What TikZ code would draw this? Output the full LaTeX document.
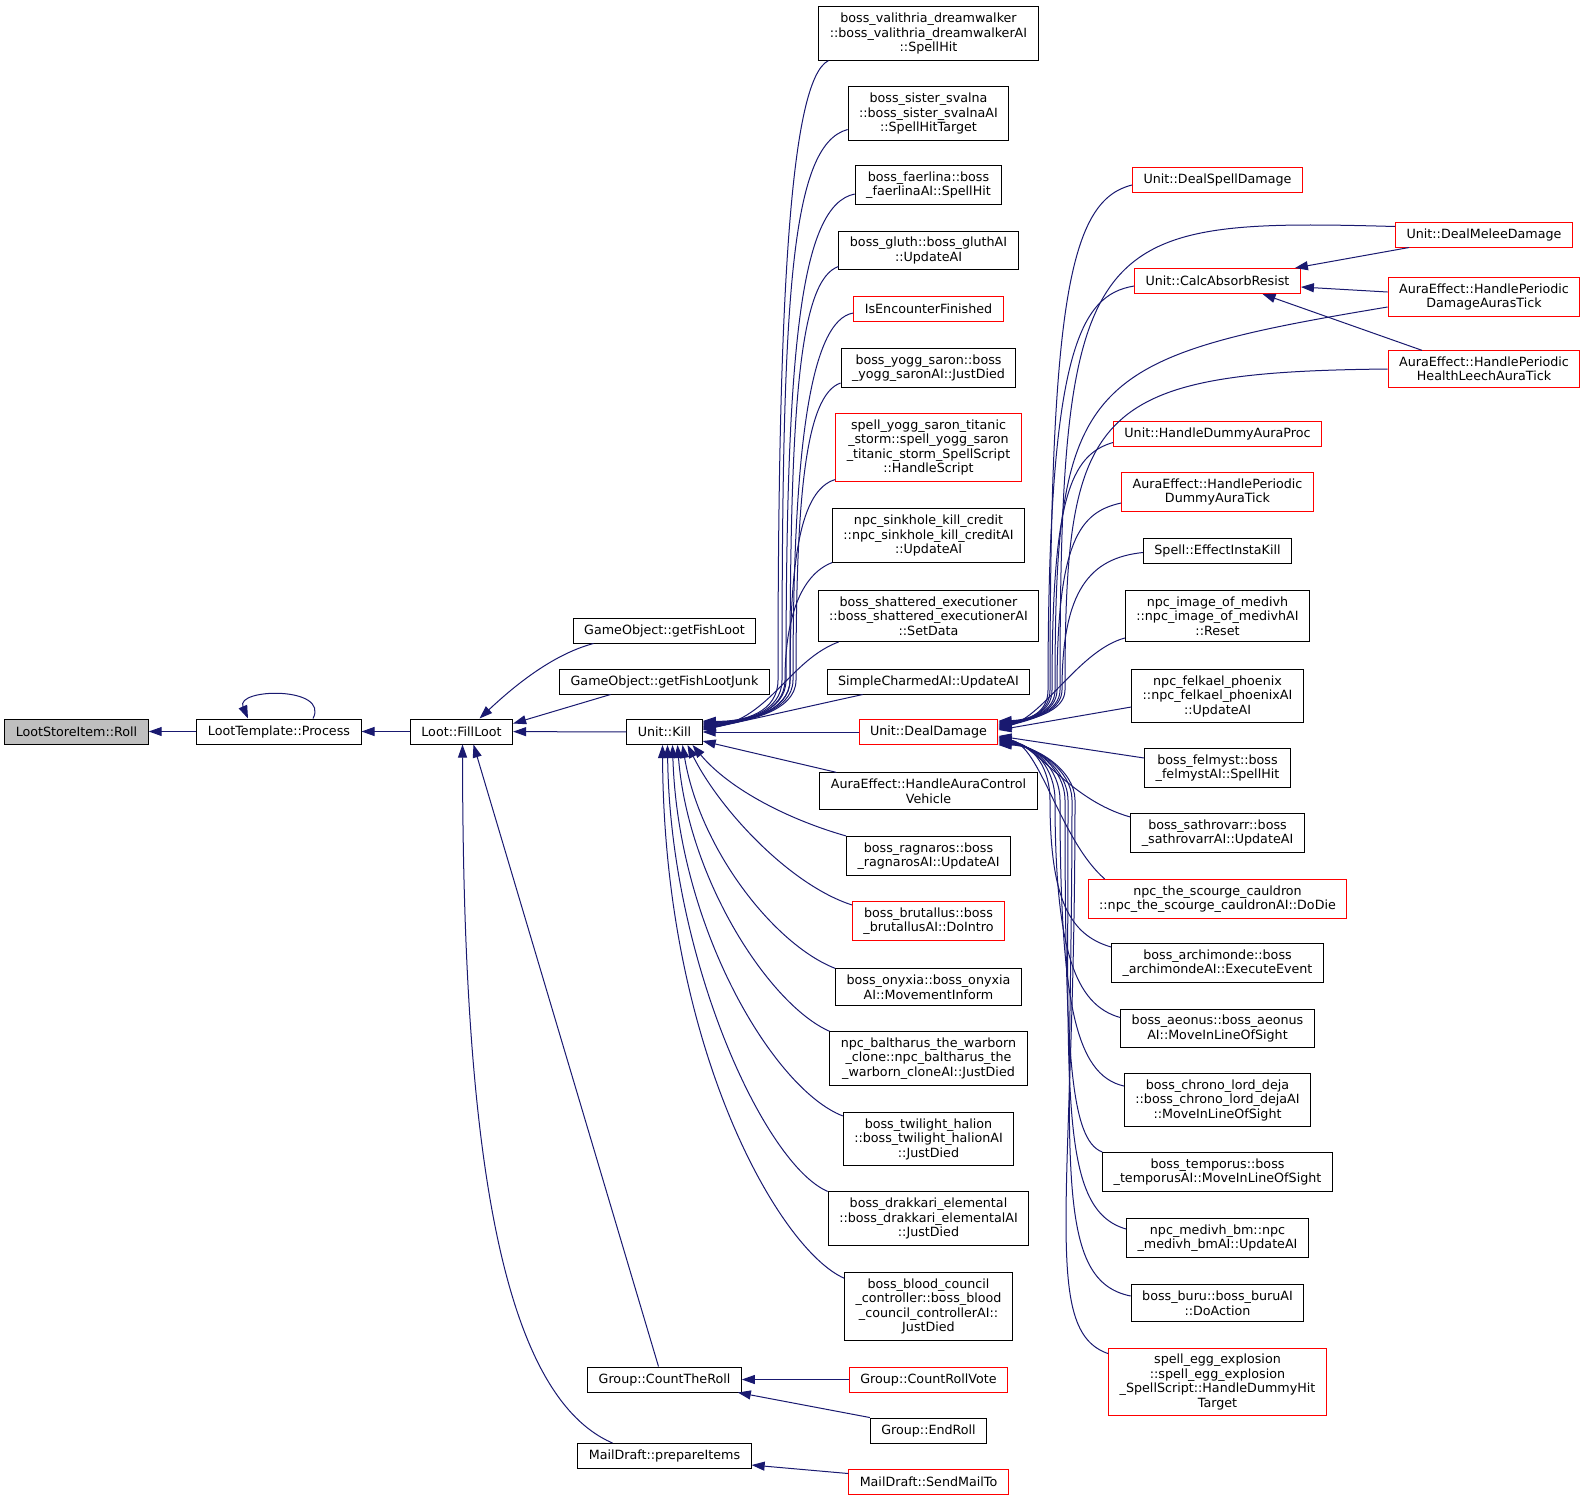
\documentclass[tikz,border=0pt]{standalone}
\usepackage{fontspec}
\newfontfamily\graphsans{DejaVu Sans}
\usetikzlibrary{arrows.meta}
\definecolor{edgenavy}{HTML}{191970}
\definecolor{rootgray}{HTML}{BFBFBF}
\newcommand{\nodefont}{\graphsans\fontsize{12.7pt}{14.5pt}\selectfont}

\begin{document}
\begin{tikzpicture}[x=1pt,y=-1pt,>={Triangle[length=13pt,width=9pt]},
  fn/.style={draw=black,fill=white,line width=1pt,font=\nodefont,align=center,
    inner xsep=11pt,inner ysep=6pt,minimum height=25pt},
  fnred/.style={fn,draw=red},
  fnroot/.style={fn,fill=rootgray},
  callerline/.style={draw=edgenavy,line width=1pt,<-}]
  \useasboundingbox[fill=white] (0,0) rectangle (1592,1500);

  % left part
  \node[fnroot] (roll) at (76.5,731.5) {LootStoreItem::Roll};
  \node[fn] (process) at (279,731.5) {LootTemplate::Process};
  \node[fn] (fillloot) at (461.5,731.5) {Loot::FillLoot};
  \node[fn] (fishloot) at (664.5,630.5) {GameObject::getFishLoot};
  \node[fn] (fishjunk) at (664.5,681.5) {GameObject::getFishLootJunk};
  \node[fn] (kill) at (664.5,732) {Unit::Kill};
  \node[fn] (counttheroll) at (664.5,1379.5) {Group::CountTheRoll};
  \node[fn] (prepareitems) at (664.5,1456) {MailDraft::prepareItems};

  % callers of Unit::Kill
  \node[fn] (valithria) at (928.5,33.5) {boss\_valithria\_dreamwalker\\::boss\_valithria\_dreamwalkerAI\\::SpellHit};
  \node[fn] (svalna) at (928.5,113.5) {boss\_sister\_svalna\\::boss\_sister\_svalnaAI\\::SpellHitTarget};
  \node[fn] (faerlina) at (928.5,185) {boss\_faerlina::boss\\\_faerlinaAI::SpellHit};
  \node[fn] (gluth) at (928.5,250.5) {boss\_gluth::boss\_gluthAI\\::UpdateAI};
  \node[fnred] (isencounter) at (928.5,309) {IsEncounterFinished};
  \node[fn] (yogg) at (928.5,368) {boss\_yogg\_saron::boss\\\_yogg\_saronAI::JustDied};
  \node[fnred] (spellyogg) at (928.5,447.5) {spell\_yogg\_saron\_titanic\\\_storm::spell\_yogg\_saron\\\_titanic\_storm\_SpellScript\\::HandleScript};
  \node[fn] (sinkhole) at (928.5,535.5) {npc\_sinkhole\_kill\_credit\\::npc\_sinkhole\_kill\_creditAI\\::UpdateAI};
  \node[fn] (shattered) at (928.5,616) {boss\_shattered\_executioner\\::boss\_shattered\_executionerAI\\::SetData};
  \node[fn] (simplecharmed) at (928.5,681.5) {SimpleCharmedAI::UpdateAI};
  \node[fnred] (dealdamage) at (928.5,732) {Unit::DealDamage};
  \node[fn] (auravehicle) at (928.5,791) {AuraEffect::HandleAuraControl\\Vehicle};
  \node[fn] (ragnaros) at (928.5,856) {boss\_ragnaros::boss\\\_ragnarosAI::UpdateAI};
  \node[fnred] (brutallus) at (928.5,921) {boss\_brutallus::boss\\\_brutallusAI::DoIntro};
  \node[fn] (onyxia) at (928.5,987) {boss\_onyxia::boss\_onyxia\\AI::MovementInform};
  \node[fn] (baltharus) at (928.5,1058.5) {npc\_baltharus\_the\_warborn\\\_clone::npc\_baltharus\_the\\\_warborn\_cloneAI::JustDied};
  \node[fn] (halion) at (928.5,1139) {boss\_twilight\_halion\\::boss\_twilight\_halionAI\\::JustDied};
  \node[fn] (drakkari) at (928.5,1218.5) {boss\_drakkari\_elemental\\::boss\_drakkari\_elementalAI\\::JustDied};
  \node[fn] (bloodcouncil) at (928.5,1306.5) {boss\_blood\_council\\\_controller::boss\_blood\\\_council\_controllerAI::\\JustDied};
  \node[fnred] (countrollvote) at (928.5,1379.5) {Group::CountRollVote};
  \node[fn] (endroll) at (928.5,1430.5) {Group::EndRoll};
  \node[fnred] (sendmailto) at (928.5,1481.5) {MailDraft::SendMailTo};

  % callers of Unit::DealDamage
  \node[fnred] (dealspell) at (1217.5,180) {Unit::DealSpellDamage};
  \node[fnred] (calcabsorb) at (1217.5,281) {Unit::CalcAbsorbResist};
  \node[fnred] (dummyproc) at (1217.5,433.5) {Unit::HandleDummyAuraProc};
  \node[fnred] (dummytick) at (1217.5,492) {AuraEffect::HandlePeriodic\\DummyAuraTick};
  \node[fn] (instakill) at (1217.5,550.5) {Spell::EffectInstaKill};
  \node[fn] (imagemedivh) at (1217.5,616) {npc\_image\_of\_medivh\\::npc\_image\_of\_medivhAI\\::Reset};
  \node[fn] (felkael) at (1217.5,696) {npc\_felkael\_phoenix\\::npc\_felkael\_phoenixAI\\::UpdateAI};
  \node[fn] (felmyst) at (1217.5,768) {boss\_felmyst::boss\\\_felmystAI::SpellHit};
  \node[fn] (sathrovarr) at (1217.5,833) {boss\_sathrovarr::boss\\\_sathrovarrAI::UpdateAI};
  \node[fnred] (cauldron) at (1217.5,899) {npc\_the\_scourge\_cauldron\\::npc\_the\_scourge\_cauldronAI::DoDie};
  \node[fn] (archimonde) at (1217.5,963) {boss\_archimonde::boss\\\_archimondeAI::ExecuteEvent};
  \node[fn] (aeonus) at (1217.5,1028.5) {boss\_aeonus::boss\_aeonus\\AI::MoveInLineOfSight};
  \node[fn] (chrono) at (1217.5,1100) {boss\_chrono\_lord\_deja\\::boss\_chrono\_lord\_dejaAI\\::MoveInLineOfSight};
  \node[fn] (temporus) at (1217.5,1172) {boss\_temporus::boss\\\_temporusAI::MoveInLineOfSight};
  \node[fn] (medivhbm) at (1217.5,1238) {npc\_medivh\_bm::npc\\\_medivh\_bmAI::UpdateAI};
  \node[fn] (buru) at (1217.5,1303) {boss\_buru::boss\_buruAI\\::DoAction};
  \node[fnred] (egg) at (1217.5,1382) {spell\_egg\_explosion\\::spell\_egg\_explosion\\\_SpellScript::HandleDummyHit\\Target};

  % callers of Unit::CalcAbsorbResist
  \node[fnred] (dealmelee) at (1484,234.5) {Unit::DealMeleeDamage};
  \node[fnred] (damagetick) at (1484,297) {AuraEffect::HandlePeriodic\\DamageAurasTick};
  \node[fnred] (leechtick) at (1484,369) {AuraEffect::HandlePeriodic\\HealthLeechAuraTick};

  % left edges
  \draw[callerline] (roll) -- (process);
  \draw[callerline] ([xshift=-31pt]process.north) .. controls (235,688) and (330,686) .. ([xshift=34pt]process.north);
  \draw[callerline] (process) -- (fillloot);
  \draw[callerline] ([xshift=18pt]fillloot.north) .. controls (510,690) and (550,655) .. ([xshift=-71pt]fishloot.south);
  \draw[callerline] ([yshift=8pt]fillloot.east) -- ([xshift=-54pt]fishjunk.south);
  \draw[callerline] (fillloot) -- (kill);
  \draw[callerline] ([xshift=12pt]fillloot.south) -- ([xshift=-6pt]counttheroll.north);
  \draw[callerline] ([xshift=1pt]fillloot.south) .. controls (463,1100) and (490,1390) .. ([xshift=-52pt]prepareitems.north);
  \draw[callerline] (counttheroll) -- (countrollvote);
  \draw[callerline] ([xshift=-4pt]counttheroll.south east) -- (endroll.north west);
  \draw[callerline] ([yshift=-9pt]prepareitems.east) -- ([yshift=8pt]sendmailto.west);

  % into Unit::Kill
  \draw[callerline] ([yshift=11pt]kill.east) .. controls (745,722) and (778,712) .. (778,680) .. controls (778,300) and (790,80) .. ([xshift=10pt]valithria.south west);
  \draw[callerline] ([yshift=10pt]kill.east) .. controls (745,722) and (782,712) .. (782,680) .. controls (782,300) and (790,145) .. ([yshift=-16pt]svalna.west);
  \draw[callerline] ([yshift=9pt]kill.east) .. controls (745,722) and (786,712) .. (786,680) .. controls (786,350) and (800,205) .. ([yshift=-9pt]faerlina.west);
  \draw[callerline] ([yshift=8pt]kill.east) .. controls (745,722) and (790,712) .. (790,680) .. controls (790,400) and (800,280) .. ([yshift=-16pt]gluth.west);
  \draw[callerline] ([yshift=7pt]kill.east) .. controls (745,722) and (793,712) .. (793,680) .. controls (793,450) and (810,320) .. ([yshift=-4pt]isencounter.west);
  \draw[callerline] ([yshift=6pt]kill.east) .. controls (745,722) and (796,712) .. (796,680) .. controls (796,500) and (805,395) .. ([yshift=-15pt]yogg.west);
  \draw[callerline] ([yshift=5pt]kill.east) .. controls (745,722) and (790,712) .. (790,680) .. controls (790,560) and (800,490) .. ([yshift=-32pt]spellyogg.west);
  \draw[callerline] ([yshift=4pt]kill.east) .. controls (745,722) and (785,712) .. (785,680) .. controls (785,620) and (800,575) .. (sinkhole.south west);
  \draw[callerline] ([yshift=3pt]kill.east) .. controls (770,718) and (790,660) .. ([xshift=21pt]shattered.south west);
  \draw[callerline] ([yshift=2pt]kill.east) -- ([xshift=36pt]simplecharmed.south west);
  \draw[callerline] (kill) -- (dealdamage);
  \draw[callerline] ([yshift=-9pt]kill.east) -- ([xshift=17pt]auravehicle.north west);
  \draw[callerline] ([xshift=28pt]kill.south) .. controls (730,790) and (790,820) .. (ragnaros.north west);
  \draw[callerline] ([xshift=23pt]kill.south) .. controls (720,810) and (790,885) .. ([yshift=-4pt]brutallus.north west);
  \draw[callerline] ([xshift=18pt]kill.south) .. controls (700,850) and (775,945) .. (onyxia.north west);
  \draw[callerline] ([xshift=13pt]kill.south) .. controls (688,880) and (770,1005) .. (baltharus.north west);
  \draw[callerline] ([xshift=8pt]kill.south) .. controls (678,930) and (775,1090) .. ([yshift=-4pt]halion.north west);
  \draw[callerline] ([xshift=3pt]kill.south) .. controls (670,960) and (765,1165) .. (drakkari.north west);
  \draw[callerline] ([xshift=-2pt]kill.south) .. controls (664,1050) and (780,1250) .. ([yshift=-6pt]bloodcouncil.north west);

  % into Unit::DealDamage
  \draw[callerline] ([yshift=11pt]dealdamage.east) .. controls (1030,720) and (1050,712) .. (1050,690) .. controls (1050,300) and (1070,200) .. ([yshift=-5pt]dealspell.west);
  \draw[callerline] ([yshift=10pt]dealdamage.east) .. controls (1030,720) and (1060,712) .. (1060,690) .. controls (1060,230) and (1090,218) .. ([yshift=8pt]dealmelee.west);
  \draw[callerline] ([yshift=9pt]dealdamage.east) .. controls (1030,720) and (1048,712) .. (1048,690) .. controls (1048,350) and (1080,295) .. ([yshift=-5pt]calcabsorb.west);
  \draw[callerline] ([yshift=8pt]dealdamage.east) .. controls (1030,720) and (1055,712) .. (1055,690) .. controls (1055,380) and (1080,358) .. ([yshift=-10pt]damagetick.west);
  \draw[callerline] ([yshift=7pt]dealdamage.east) .. controls (1030,720) and (1065,712) .. (1065,690) .. controls (1065,410) and (1090,372) .. (leechtick.west);
  \draw[callerline] ([yshift=6pt]dealdamage.east) .. controls (1030,720) and (1052,712) .. (1052,690) .. controls (1052,500) and (1070,455) .. ([yshift=-9pt]dummyproc.west);
  \draw[callerline] ([yshift=5pt]dealdamage.east) .. controls (1030,720) and (1057,712) .. (1057,690) .. controls (1057,540) and (1080,512) .. ([yshift=-11pt]dummytick.west);
  \draw[callerline] ([yshift=4pt]dealdamage.east) .. controls (1030,720) and (1062,712) .. (1062,690) .. controls (1062,590) and (1090,558) .. ([yshift=-2pt]instakill.west);
  \draw[callerline] ([yshift=3pt]dealdamage.east) .. controls (1045,715) and (1080,650) .. ([yshift=-22pt]imagemedivh.west);
  \draw[callerline] ([yshift=2pt]dealdamage.east) -- ([yshift=-11pt]felkael.west);
  \draw[callerline] ([yshift=-4pt]dealdamage.east) -- ([yshift=10pt]felmyst.west);
  \draw[callerline] ([yshift=-5pt]dealdamage.east) .. controls (1040,748) and (1070,800) .. ([yshift=16pt]sathrovarr.west);
  \draw[callerline] ([yshift=-6pt]dealdamage.east) .. controls (1040,745) and (1060,840) .. ([xshift=17pt]cauldron.north west);
  \draw[callerline] ([yshift=-7pt]dealdamage.east) .. controls (1035,745) and (1050,770) .. (1050,800) .. controls (1050,900) and (1070,935) .. ([yshift=16pt]archimonde.west);
  \draw[callerline] ([yshift=-8pt]dealdamage.east) .. controls (1035,745) and (1055,770) .. (1055,800) .. controls (1055,950) and (1075,1005) .. ([yshift=11pt]aeonus.west);
  \draw[callerline] ([yshift=-9pt]dealdamage.east) .. controls (1035,745) and (1060,770) .. (1060,800) .. controls (1060,1000) and (1075,1075) .. ([yshift=14pt]chrono.west);
  \draw[callerline] ([yshift=-10pt]dealdamage.east) .. controls (1035,745) and (1065,770) .. (1065,800) .. controls (1065,1050) and (1070,1140) .. (temporus.north west);
  \draw[callerline] ([yshift=-11pt]dealdamage.east) .. controls (1035,745) and (1068,770) .. (1068,800) .. controls (1068,1100) and (1060,1210) .. ([yshift=9pt]medivhbm.west);
  \draw[callerline] ([yshift=-12pt]dealdamage.east) .. controls (1035,745) and (1072,770) .. (1072,800) .. controls (1072,1150) and (1050,1280) .. ([yshift=7pt]buru.west);
  \draw[callerline] ([yshift=-13pt]dealdamage.east) .. controls (1035,745) and (1075,770) .. (1075,800) .. controls (1075,1200) and (1040,1330) .. ([yshift=-6pt]egg.north west);

  % into Unit::CalcAbsorbResist
  \draw[callerline] ([xshift=-6pt]calcabsorb.north east) -- ([xshift=14pt]dealmelee.south west);
  \draw[callerline] ([yshift=-6pt]calcabsorb.east) -- ([yshift=5pt]damagetick.west);
  \draw[callerline] ([xshift=45pt]calcabsorb.south) -- ([xshift=-62pt]leechtick.north);
\end{tikzpicture}
\end{document}
